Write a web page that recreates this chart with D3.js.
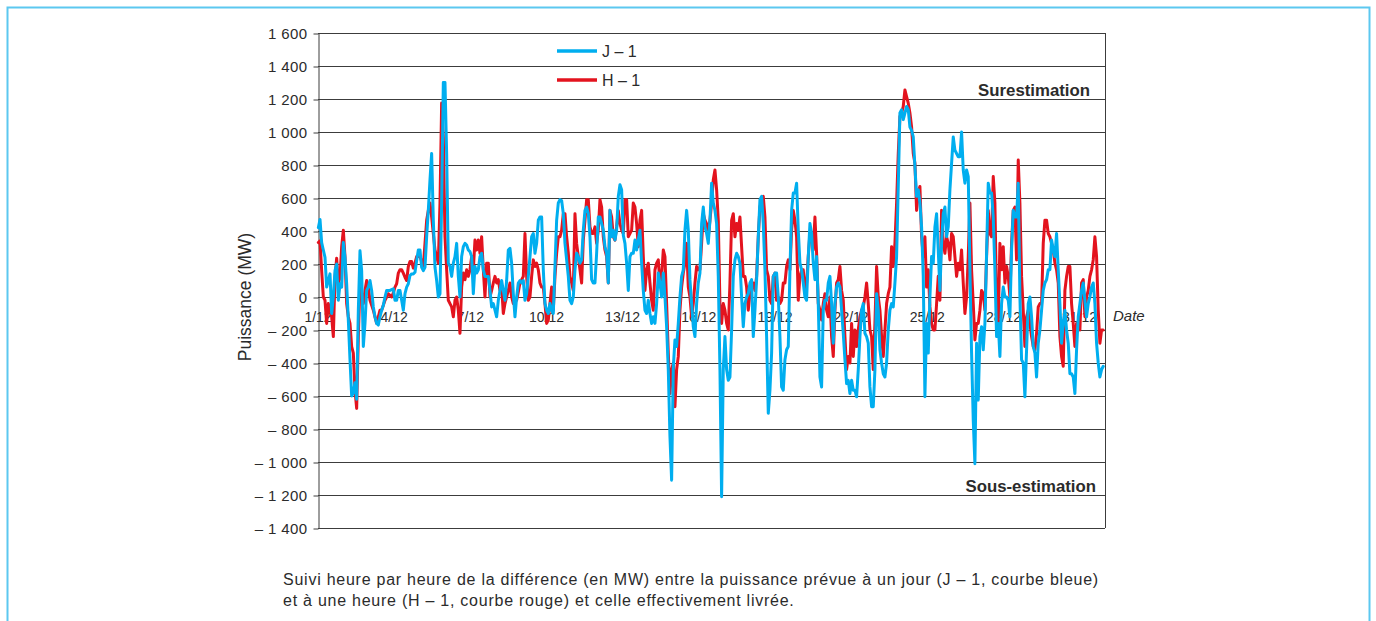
<!DOCTYPE html>
<html lang="fr">
<head>
<meta charset="utf-8">
<script src="https://cdn.jsdelivr.net/npm/d3@7"></script>
<style>
  html, body { margin: 0; padding: 0; background: #fff; }
  svg { display: block; font-family: "Liberation Sans", Arial, Helvetica, sans-serif; }
</style>
</head>
<body>
<svg id="chart" width="1376" height="621"></svg>
<script>
// Écart prévision / réalisé, décembre, échantillonné tout au long du mois (MW)
const sampleStartHour = 0.315;   // heure du premier échantillon après le 1/12 0 h
const sampleStepHours = 1.5754;  // pas entre deux échantillons

// Prévision à un jour (J – 1)
const valuesJ = [
  420,470,330,285,240,60,100,140,-100,0,160,200,-20,80,60,330,240,80,-140,-380,
  -600,-580,-520,-620,-80,280,160,-300,-160,40,60,100,40,-60,-120,-160,-170,-120,-80,-50,
  0,40,40,40,45,50,-20,-20,40,40,-20,-80,20,60,80,130,140,140,150,220,
  285,285,180,160,180,365,525,710,870,465,180,100,0,
  20,570,1300,1300,870,205,185,125,205,245,325,125,0,245,305,325,315,285,275,245,
  20,185,145,165,245,265,165,125,125,125,40,-60,-40,-80,-120,-20,40,100,40,-20,
  100,285,295,205,20,-120,0,85,100,85,100,-20,20,125,245,365,385,265,325,465,
  485,485,165,-40,-80,-100,-40,-80,-100,185,465,570,590,585,505,325,225,125,
  -20,-40,0,165,265,245,205,225,405,525,545,505,365,105,85,85,265,485,485,445,
  405,305,265,85,525,365,405,345,405,610,680,650,375,325,205,40,245,265,265,345,
  285,345,405,205,40,-80,-100,-20,-100,-160,-120,-160,-40,145,85,0,145,0,-180,-440,
  -845,-1110,-430,-260,-300,-160,0,125,165,405,525,405,105,-40,-180,-240,-40,85,
  145,445,545,425,385,325,465,690,570,525,445,125,-440,-1210,-440,-240,-440,-505,-485,-200,
  125,225,265,245,205,0,-180,-40,0,20,85,105,-240,-80,105,365,590,610,445,165,
  -240,-705,-565,-340,125,145,145,0,-240,-545,-565,-380,-320,-300,165,525,630,630,690,405,
  205,165,85,0,-20,245,445,385,205,105,245,-40,-485,-545,-80,-20,-20,85,
  125,-40,-280,-40,60,85,60,-80,-220,-380,-525,-505,-585,-505,-565,-565,-605,-440,-240,-80,
  -40,-220,-240,-280,-545,-665,-665,-440,20,-80,-320,-400,-465,-485,-400,-200,-80,-40,-60,85,
  245,670,1115,1135,1075,1115,1155,1135,1030,1010,970,790,610,650,570,425,125,-605,-160,-340,
  0,245,205,425,505,285,40,325,505,545,365,425,650,810,970,890,870,850,
  850,1000,770,690,770,730,165,-340,-745,-1010,-280,-625,-240,-180,-320,-160,265,690,630,630,
  485,165,-240,-160,-360,-40,60,0,0,-20,-120,285,525,485,485,690,0,-380,-400,-605,
  -320,-40,0,-120,-300,-340,-485,-280,-200,-80,40,85,105,165,165,345,285,245,385,165,
  -40,-280,-160,-80,-200,-280,-465,-465,-485,-585,-320,-120,-40,40,85,-20,-120,-40,0,60,
  85,-40,-280,-400,-485,-440,-420
];

// Prévision à une heure (H – 1)
const valuesH = [
  330,340,160,0,-20,-160,-40,-80,-120,-240,120,235,80,120,305,405,245,-40,-120,-160,
  -300,-340,-565,-675,-240,80,20,-40,40,100,60,-20,-50,-80,-120,-160,-120,-80,-80,-50,
  -20,0,20,10,0,25,60,80,145,165,165,145,120,100,185,215,215,175,205,245,
  245,245,215,185,325,465,525,570,485,385,285,245,205,
  570,1175,970,365,165,-20,-40,-60,-120,-20,0,-80,-220,60,145,105,165,125,165,245,
  165,345,285,345,265,365,165,0,205,205,0,40,85,125,85,105,40,60,-100,-40,
  0,40,85,0,-40,-30,-20,30,85,105,125,385,125,-20,0,125,225,185,205,165,
  85,60,60,-40,-160,-140,-40,60,-80,125,265,365,365,405,505,505,365,265,
  125,85,40,505,325,245,165,85,345,465,590,590,425,385,385,425,325,405,590,545,
  365,285,245,85,525,485,365,345,425,525,445,405,385,590,590,365,385,405,570,545,
  445,305,465,525,245,40,165,205,85,-20,-80,165,205,225,85,125,285,245,-40,-340,
  -585,-440,-400,-665,-440,-360,-80,60,145,205,325,60,0,-120,-40,85,185,165,
  165,325,505,465,445,365,465,570,710,770,650,465,-40,-160,-40,-80,-160,-200,85,465,
  505,365,445,405,485,305,125,125,60,-80,20,60,85,40,125,365,545,590,610,485,
  165,125,-20,-40,125,145,-20,0,-40,-20,85,85,185,225,165,405,525,465,365,-20,
  125,165,165,40,85,245,385,365,285,485,265,-40,-80,-140,-40,20,-80,-120,
  0,-240,-360,-80,85,105,185,40,-20,-240,-440,-360,-400,-160,-360,-200,-300,-200,-120,-80,
  -60,0,85,-40,-200,-240,-440,-160,185,0,-80,-240,-360,-200,-40,20,60,305,185,325,
  570,870,1095,1115,1155,1255,1215,1175,1115,1030,870,810,525,630,670,365,245,365,60,165,
  -60,-160,-200,-200,-40,125,-20,525,325,265,365,325,225,385,365,245,125,205,
  165,285,85,-100,0,245,570,165,-40,-260,-160,-160,-80,40,20,-80,245,525,385,365,
  730,570,-40,-160,325,165,305,85,185,125,0,325,525,545,225,830,570,125,-80,-300,
  -120,-80,-160,-240,-300,-320,-220,-60,-40,-40,325,465,465,385,365,325,285,205,165,85,
  -240,-360,-420,40,125,185,185,-40,-160,-300,-160,-160,-200,85,105,-120,0,40,125,165,
  225,365,245,-80,-280,-200,-200
];

// Graduations
const yTickValues = [1600,1400,1200,1000,800,600,400,200,0,-200,-400,-600,-800,-1000,-1200,-1400];
const dateTickHours = [0,72,144,216,288,360,432,504,576,648,720];
const dateTickLabels = ["1/12","4/12","7/12","10/12","13/12","16/12","19/12","22/12","25/12","28/12","31/12"];

const seriesNames = ["J \u2013 1", "H \u2013 1"];
const seriesColors = ["#00aeef", "#e3131e"];

const captionLines = [
  "Suivi heure par heure de la différence (en MW) entre la puissance prévue à un jour (J \u2013 1, courbe bleue)",
  "et à une heure (H \u2013 1, courbe rouge) et celle effectivement livrée."
];

// ---------------------------------------------------------------
const svg = d3.select("#chart");
const plot = { left: 318, right: 1105, top: 33, bottom: 528 };

const x = d3.scaleLinear().domain([0, 744]).range([plot.left, plot.right]);
const y = d3.scaleLinear().domain([-1400, 1600]).range([plot.bottom, plot.top]);

const fr = d3.formatLocale({
  decimal: ",", thousands: "\u00a0", grouping: [3],
  currency: ["", "\u00a0€"], minus: "\u2013\u00a0"
});
const fmt = fr.format(",d");

// cadre
svg.append("rect")
  .attr("x", 7.5).attr("y", 7.5)
  .attr("width", 1362).attr("height", 640)
  .attr("fill", "none")
  .attr("stroke", "#5cc8f0")
  .attr("stroke-width", 2);

// grille horizontale
svg.append("g").selectAll("line")
  .data(yTickValues)
  .join("line")
  .attr("x1", plot.left).attr("x2", plot.right)
  .attr("y1", d => Math.round(y(d)) + 0.5)
  .attr("y2", d => Math.round(y(d)) + 0.5)
  .attr("stroke", "#3c3c3c")
  .attr("stroke-width", 1);

// bord droit
svg.append("line")
  .attr("x1", plot.right + 0.5).attr("x2", plot.right + 0.5)
  .attr("y1", y(1600)).attr("y2", y(-1400))
  .attr("stroke", "#3c3c3c");

// axe vertical
const yAxis = d3.axisLeft(y).tickValues(yTickValues).tickFormat(fmt)
  .tickSizeInner(5).tickSizeOuter(0).tickPadding(6);
const gy = svg.append("g")
  .attr("transform", `translate(${plot.left + 0.5},0.5)`)
  .call(yAxis);
gy.select(".domain").attr("stroke", "#3c3c3c");
gy.selectAll(".tick line").attr("stroke", "#3c3c3c");
gy.selectAll(".tick text")
  .attr("font-size", 15).attr("letter-spacing", 0.4).attr("fill", "#2b2b2b")
  .attr("font-family", "Liberation Sans, Arial, sans-serif");

// titre de l'axe vertical
svg.append("text")
  .attr("transform", `translate(251,${y(0)}) rotate(-90)`)
  .attr("text-anchor", "middle")
  .attr("font-size", 17.5).attr("fill", "#2b2b2b")
  .text("Puissance (MW)");

// étiquettes de dates le long de la ligne zéro
svg.append("g").selectAll("text")
  .data(dateTickHours)
  .join("text")
  .attr("x", d => x(d))
  .attr("y", y(0) + 25)
  .attr("text-anchor", "middle")
  .attr("font-size", 14).attr("fill", "#2b2b2b")
  .text((d, i) => dateTickLabels[i]);

svg.append("text")
  .attr("x", plot.right + 8).attr("y", y(0) + 24)
  .attr("font-size", 15).attr("font-style", "italic").attr("fill", "#2b2b2b")
  .text("Date");

// courbes
const hourOf = i => sampleStartHour + i * sampleStepHours;
const line = d3.line()
  .x((d, i) => x(hourOf(i)))
  .y(d => y(d));

const series = [valuesJ, valuesH];
[1, 0].forEach(k => {
  svg.append("path")
    .datum(series[k])
    .attr("d", line)
    .attr("fill", "none")
    .attr("stroke", seriesColors[k])
    .attr("stroke-width", 3)
    .attr("stroke-linejoin", "round")
    .attr("stroke-linecap", "round");
});

// légende
const legend = svg.append("g");
seriesNames.forEach((name, k) => {
  const ly = 51 + k * 29;
  legend.append("line")
    .attr("x1", 557).attr("x2", 597)
    .attr("y1", ly).attr("y2", ly)
    .attr("stroke", seriesColors[k]).attr("stroke-width", 3.5);
  legend.append("text")
    .attr("x", 602).attr("y", ly + 6)
    .attr("font-size", 16).attr("fill", "#2b2b2b")
    .text(name);
});

// annotations
svg.append("text")
  .attr("x", 1090).attr("y", 96)
  .attr("text-anchor", "end")
  .attr("font-size", 16.8).attr("font-weight", "bold").attr("fill", "#2b2b2b")
  .text("Surestimation");
svg.append("text")
  .attr("x", 1096).attr("y", 492)
  .attr("text-anchor", "end")
  .attr("font-size", 16.8).attr("font-weight", "bold").attr("fill", "#2b2b2b")
  .text("Sous-estimation");

// légende du graphique
svg.append("g").selectAll("text")
  .data(captionLines)
  .join("text")
  .attr("x", 283)
  .attr("y", (d, i) => 585 + i * 21)
  .attr("font-size", 16).attr("letter-spacing", 0.75).attr("fill", "#2b2b2b")
  .text(d => d);
</script>
</body>
</html>
